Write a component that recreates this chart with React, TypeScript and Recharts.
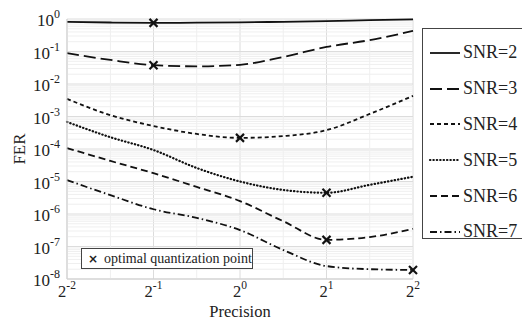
import React from "react";
import {
  CartesianGrid,
  Label,
  Legend,
  Line,
  LineChart,
  ReferenceLine,
  XAxis,
  YAxis,
} from "recharts";

const SERIF = "'Liberation Serif', 'Times New Roman', serif";
const INK = "#111";
const TXT = "#222";
const MAJOR = "#dcdcdc";
const MINOR = "#efefef";

// precision (x), sampled at half powers of two
const precision = [0.25, 0.354, 0.5, 0.707, 1, 1.414, 2, 2.828, 4];

const fer2 = [0.82, 0.78, 0.76, 0.77, 0.79, 0.82, 0.86, 0.92, 0.98];
const fer3 = [0.089, 0.055, 0.038, 0.035, 0.039, 0.068, 0.138, 0.224, 0.43];
const fer4 = [3.5e-3, 1.1e-3, 5.1e-4, 2.9e-4, 2.2e-4, 2.5e-4, 3.8e-4, 1.2e-3, 4.3e-3];
const fer5 = [6.8e-4, 2.3e-4, 9.3e-5, 2.6e-5, 1.0e-5, 5.5e-6, 4.5e-6, 7.9e-6, 1.4e-5];
const fer6 = [1.07e-4, 4.3e-5, 1.8e-5, 6.8e-6, 2.5e-6, 6e-7, 1.6e-7, 1.95e-7, 3.5e-7];
const fer7 = [1.1e-5, 3.8e-6, 1.4e-6, 7.6e-7, 3.2e-7, 7.8e-8, 2.5e-8, 2.0e-8, 1.9e-8];

const seriesNames = ["SNR=2", "SNR=3", "SNR=4", "SNR=5", "SNR=6", "SNR=7"];
const seriesKeys = ["s2", "s3", "s4", "s5", "s6", "s7"];
const seriesDash = ["", "12 5", "4 3", "0.4 3", "7 4", "7 3 1.5 3"];
// x position of the optimal quantization point for each SNR
const optimalX = [0.5, 0.5, 1, 2, 2, 4];

const xTicks = [0.25, 0.5, 1, 2, 4];
const xMinor = [0.354, 0.707, 1.414, 2.828];
const xExp = ["-2", "-1", "0", "1", "2"];
const yTicks = [1e-8, 1e-7, 1e-6, 1e-5, 1e-4, 1e-3, 1e-2, 1e-1, 1];
const yExp = ["-8", "-7", "-6", "-5", "-4", "-3", "-2", "-1", "0"];
const yMinorMant = [2, 3, 4, 5, 6, 7, 8, 9];

const allSeries = [fer2, fer3, fer4, fer5, fer6, fer7];
const data = precision.map((p, i) => {
  const row: Record<string, number> = { p };
  seriesKeys.forEach((k, j) => (row[k] = allSeries[j][i]));
  return row;
});

const yMinor: number[] = [];
yTicks.slice(0, -1).forEach((d) => yMinorMant.forEach((m) => yMinor.push(m * d)));

function XTick({ x, y, payload }: any) {
  const i = xTicks.indexOf(payload.value);
  return (
    <text x={x} y={y + 10} textAnchor="middle" fontFamily={SERIF} fontSize={16.5} fill={TXT}>
      <tspan>2</tspan>
      <tspan dy={-8} fontSize={11.5}>{xExp[i]}</tspan>
    </text>
  );
}

function YTick({ x, y, payload }: any) {
  const i = yTicks.indexOf(payload.value);
  return (
    <text x={x + 1} y={y + 7} textAnchor="end" fontFamily={SERIF} fontSize={17} fill={TXT}>
      <tspan>10</tspan>
      <tspan dy={-8} fontSize={12}>{yExp[i]}</tspan>
    </text>
  );
}

function cross(key: string, cx: number, cy: number) {
  const r = 4;
  return (
    <g key={key} stroke={INK} strokeWidth={2.2}>
      <line x1={cx - r} y1={cy - r} x2={cx + r} y2={cy + r} />
      <line x1={cx - r} y1={cy + r} x2={cx + r} y2={cy - r} />
    </g>
  );
}

function makeDot(j: number) {
  return (props: any) => {
    const { cx, cy, payload, index } = props;
    if (payload.p !== optimalX[j]) return <g key={`d${j}-${index}`} />;
    return cross(`d${j}-${index}`, cx, cy);
  };
}

function LegendBox() {
  return (
    <div
      style={{
        width: 106,
        height: 211,
        border: "1px solid #444",
        background: "#fff",
        boxSizing: "border-box",
        paddingTop: 6,
        fontFamily: SERIF,
        color: TXT,
      }}
    >
      {seriesNames.map((n, j) => (
        <div key={n} style={{ height: 35.8, display: "flex", alignItems: "center" }}>
          <svg width={34} height={10} style={{ marginLeft: 5 }}>
            <line
              x1={2}
              y1={5}
              x2={32}
              y2={5}
              stroke={INK}
              strokeWidth={j === 3 ? 2.2 : 1.8}
              strokeLinecap={j === 3 ? "round" : "butt"}
              strokeDasharray={seriesDash[j] || undefined}
            />
          </svg>
          <span style={{ fontSize: 18, marginLeft: 1 }}>{n}</span>
        </div>
      ))}
    </div>
  );
}

export default function App() {
  return (
    <div style={{ position: "relative", width: 522, height: 322, background: "#fff", overflow: "hidden" }}>
      <style>{`body{margin:0}`}</style>
      <LineChart width={522} height={322} data={data} margin={{ top: 19, right: 109, bottom: 8, left: 7 }}>
        {yMinor.map((v) => (
          <ReferenceLine key={`ym${v}`} y={v} stroke={MINOR} strokeWidth={1} />
        ))}
        {xMinor.map((v) => (
          <ReferenceLine key={`xm${v}`} x={v} stroke={MINOR} strokeWidth={1} />
        ))}
        <CartesianGrid stroke={MAJOR} />
        <XAxis
          dataKey="p"
          type="number"
          scale="log"
          domain={[0.25, 4]}
          ticks={xTicks}
          tick={<XTick />}
          tickLine={false}
          axisLine={{ stroke: "#cfcfcf" }}
          height={35}
        >
          <Label value="Precision" position="insideBottom" offset={-3} style={{ fontFamily: SERIF, fontSize: 16.5, fill: TXT }} />
        </XAxis>
        <YAxis
          type="number"
          scale="log"
          domain={[1e-8, 1]}
          ticks={yTicks}
          tick={<YTick />}
          tickLine={false}
          axisLine={{ stroke: "#cfcfcf" }}
          width={60}
        >
          <Label value="FER" angle={-90} position="insideLeft" offset={12} style={{ fontFamily: SERIF, fontSize: 17, fill: TXT, textAnchor: "middle" }} />
        </YAxis>
        {seriesKeys.map((k, j) => (
          <Line
            key={k}
            dataKey={k}
            name={seriesNames[j]}
            type="monotone"
            stroke={INK}
            strokeWidth={j === 3 ? 2.2 : 1.8}
            strokeDasharray={seriesDash[j] || undefined}
            strokeLinecap={j === 3 ? "round" : "butt"}
            dot={makeDot(j)}
            activeDot={false}
            isAnimationActive={false}
          />
        ))}
        <Legend
          layout="vertical"
          align="center"
          verticalAlign="middle"
          content={() => <LegendBox />}
          wrapperStyle={{ left: 422, top: 28, width: 106, height: 212 }}
        />
      </LineChart>
      <div
        style={{
          position: "absolute",
          left: 81,
          top: 248,
          width: 172,
          height: 21,
          border: "1px solid #444",
          background: "#fff",
          boxSizing: "border-box",
          fontFamily: SERIF,
          fontSize: 14,
          color: TXT,
          display: "flex",
          alignItems: "center",
        }}
      >
        <span style={{ marginLeft: 6, fontFamily: "'DejaVu Sans', sans-serif", fontWeight: 700, fontSize: 12 }}>×</span>
        <span style={{ marginLeft: 6 }}>optimal quantization point</span>
      </div>
    </div>
  );
}
